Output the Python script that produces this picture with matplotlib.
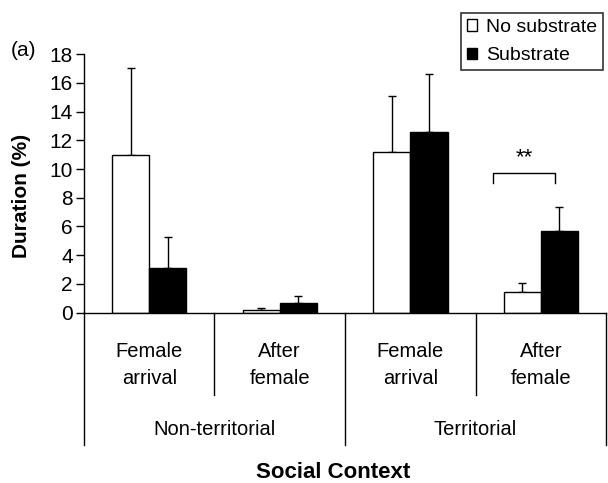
import numpy as np
import matplotlib.pyplot as plt
import matplotlib.transforms as mtransforms

# Data
phases = ['Female\narrival', 'After\nfemale', 'Female\narrival', 'After\nfemale']
contexts = ['Non-territorial', 'Territorial']
no_sub = [11.0, 0.2, 11.2, 1.45]
no_sub_err = [6.0, 0.15, 3.9, 0.6]
sub = [3.1, 0.7, 12.6, 5.7]
sub_err = [2.15, 0.45, 4.0, 1.65]

plt.rcParams['font.family'] = ['Liberation Sans', 'DejaVu Sans']

fig = plt.figure(figsize=(6.08, 4.83), dpi=100)
ax = fig.add_axes([0.138, 0.3526, 0.859, 0.5354])

x = np.arange(len(phases))
w = 0.285
ax.bar(x - w / 2, no_sub, w, color='white', edgecolor='black', linewidth=1,
       label='No substrate', zorder=2)
ax.bar(x + w / 2, sub, w, color='black', edgecolor='black', linewidth=1,
       label='Substrate', zorder=2)
ax.errorbar(x - w / 2, no_sub, yerr=[np.zeros(4), no_sub_err], fmt='none',
            ecolor='black', elinewidth=1, capsize=3, capthick=1, zorder=1)
ax.errorbar(x + w / 2, sub, yerr=[np.zeros(4), sub_err], fmt='none',
            ecolor='black', elinewidth=1, capsize=3, capthick=1, zorder=1)

ax.set_xlim(-0.5, 3.5)
ax.set_ylim(0, 18)
ax.set_yticks(range(0, 19, 2))
ax.tick_params(axis='y', labelsize=15, length=6, width=1, pad=2)
ax.set_xticks([])
for s in ['top', 'right']:
    ax.spines[s].set_visible(False)
ax.spines['left'].set_linewidth(1)
ax.spines['bottom'].set_linewidth(1)

# significance bracket
bx0, bx1 = 2.63, 3.11
ax.plot([bx0, bx0, bx1, bx1], [9.0, 9.7, 9.7, 9.0], color='black', lw=1)
ax.text((bx0 + bx1) / 2, 10.8, '**', ha='center', va='center', fontsize=16)

# category lines and labels below the axis
trans = mtransforms.blended_transform_factory(ax.transData, ax.transAxes)
for xb, yb in [(-0.5, -0.511), (0.5, -0.318), (1.5, -0.511),
               (2.5, -0.318), (3.5, -0.511)]:
    ax.plot([xb, xb], [0, yb], color='black', lw=1, transform=trans,
            clip_on=False)
for xi, lab in zip(x, phases):
    ax.text(xi, -0.202, lab, transform=trans, ha='center', va='center',
            fontsize=14.5, linespacing=1.5)
for i, lab in enumerate(contexts):
    ax.text(0.5 + 2 * i, -0.453, lab, transform=trans, ha='center',
            va='center', fontsize=14.5)

fig.text(0.036, 0.594, 'Duration (%)', rotation=90, ha='center',
         va='center', fontsize=15, fontweight='bold')
fig.text(0.548, 1 - 472 / 483, 'Social Context', ha='center', va='center',
         fontsize=16, fontweight='bold')
fig.text(0.018, 0.896, '(a)', ha='left', va='center', fontsize=15)

leg = fig.legend(loc='upper right', bbox_to_anchor=(603 / 608, 1 - 13 / 483),
                 fontsize=14, frameon=True, fancybox=False, edgecolor='black',
                 handlelength=0.55, handleheight=0.55, handletextpad=0.45,
                 borderpad=0.3, labelspacing=0.6, borderaxespad=0)
leg.get_frame().set_linewidth(1.2)

fig.savefig('out.png', dpi=100)
